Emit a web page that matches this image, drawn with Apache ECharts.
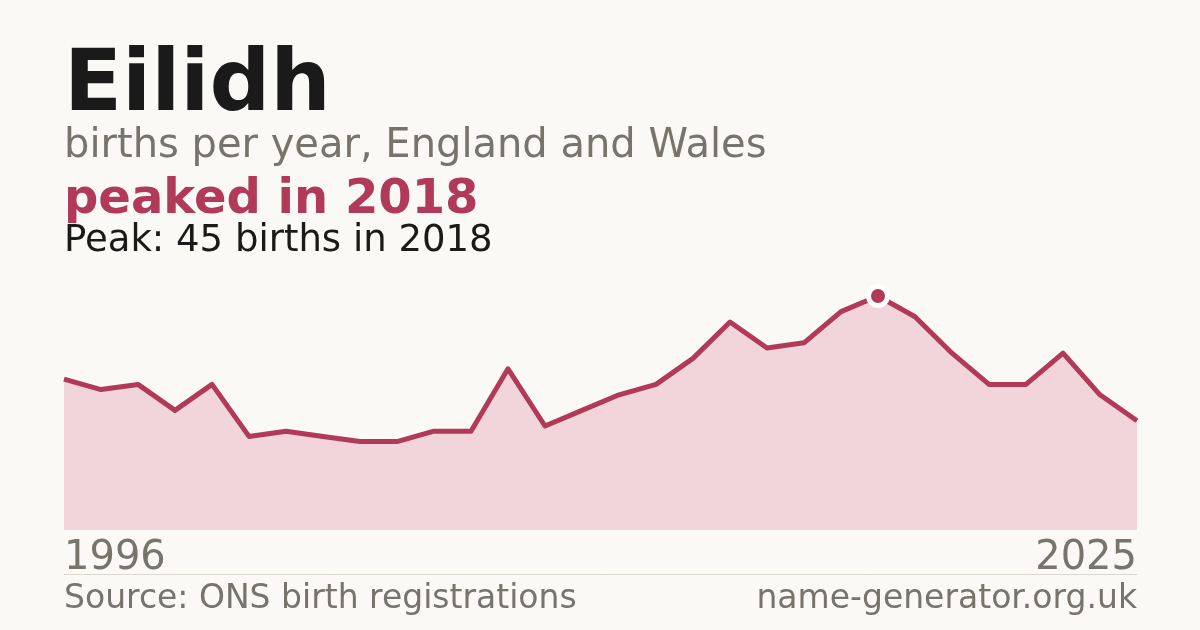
<!DOCTYPE html>
<html>
<head>
<meta charset="utf-8">
<title>Eilidh</title>
<script src="https://cdn.jsdelivr.net/npm/echarts@6/dist/echarts.min.js"></script>
<style>
  html, body { margin: 0; padding: 0; background: #faf9f5; }
  #chart { width: 1200px; height: 630px; }
</style>
</head>
<body>
<div id="chart"></div>
<script>
// births per year for the name
var years = ['1996','1997','1998','1999','2000','2001','2002','2003','2004','2005',
             '2006','2007','2008','2009','2010','2011','2012','2013','2014','2015',
             '2016','2017','2018','2019','2020','2021','2022','2023','2024','2025'];
var births = [29, 27, 28, 23, 28, 18, 19, 18, 17, 17,
              19, 19, 31, 20, 23, 26, 28, 33, 40, 35,
              36, 42, 45, 41, 34, 28, 28, 34, 26, 21];

var crimson = '#b13a58';
var grey = '#78736b';
var font = 'DejaVu Sans';

var chart = echarts.init(document.getElementById('chart'), null, { renderer: 'canvas' });

function txt(s, size, weight, color) {
  return { text: s, fontFamily: font, fontSize: size, fontWeight: weight, fill: color };
}

var option = {
  backgroundColor: '#faf9f5',
  animation: false,
  textStyle: { fontFamily: font },
  grid: { left: 64, right: 63, top: 270, bottom: 100 },
  xAxis: {
    type: 'category',
    data: years,
    boundaryGap: false,
    axisLine: { show: false },
    axisTick: { show: false },
    splitLine: { show: false },
    axisLabel: {
      interval: function (i) { return i === 0 || i === years.length - 1; },
      alignMinLabel: 'left',
      alignMaxLabel: 'right',
      color: grey,
      fontFamily: font,
      fontSize: 40,
      margin: 9
    }
  },
  yAxis: {
    type: 'value',
    min: 0,
    max: 50,
    show: false
  },
  series: [{
    type: 'line',
    data: births,
    symbol: 'none',
    lineStyle: { color: crimson, width: 5, join: 'round' },
    areaStyle: { color: '#f1d5da', opacity: 1 },
    markPoint: {
      symbol: 'circle',
      symbolSize: 19,
      itemStyle: { color: crimson, borderColor: '#ffffff', borderWidth: 5 },
      label: { show: false },
      data: [{ type: 'max' }]
    }
  }],
  graphic: [
    { type: 'text', left: 64, top: 45, style: txt('Eilidh', 85, 'bold', '#1a1a1a') },
    { type: 'text', left: 64, top: 127, style: txt('births per year, England and Wales', 40, 'normal', grey) },
    { type: 'text', left: 64, top: 177, style: txt('peaked in 2018', 48, 'bold', crimson) },
    { type: 'text', left: 64, top: 223, style: txt('Peak: 45 births in 2018', 37, 'normal', '#1a1a1a') },
    { type: 'line', shape: { x1: 64, y1: 574.5, x2: 1137, y2: 574.5 }, style: { stroke: '#dcd8d0', lineWidth: 1 } },
    { type: 'text', left: 64, top: 583, style: txt('Source: ONS birth registrations', 33, 'normal', grey) },
    { type: 'text', right: 63, top: 583, style: txt('name-generator.org.uk', 33, 'normal', grey) }
  ]
};

chart.setOption(option);
</script>
</body>
</html>
